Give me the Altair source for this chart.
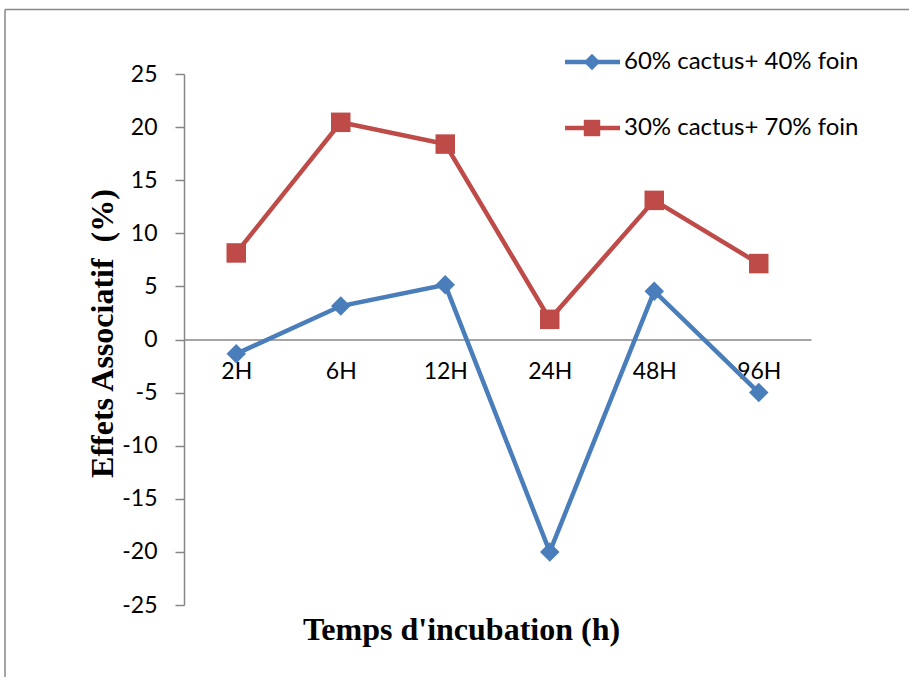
import altair as alt
import pandas as pd

# ---- data ----
times = ["2H", "6H", "12H", "24H", "48H", "96H"]
series = ["60% cactus+ 40% foin", "30% cactus+ 70% foin"]
blue_vals = [-1.35, 3.15, 5.15, -20.0, 4.55, -5.0]
red_vals = [8.15, 20.45, 18.4, 1.9, 13.1, 7.15]
y_ticks = [-25, -20, -15, -10, -5, 0, 5, 10, 15, 20, 25]
colors = ["#4A7EBB", "#BE4B48"]
shapes = ["diamond", "square"]

rows = []
for s, vals in zip(series, [blue_vals, red_vals]):
    for t, v in zip(times, vals):
        rows.append({"time": t, "series": s, "value": v})
df = pd.DataFrame(rows)
leg_df = pd.DataFrame({"series": series})
frame_df = pd.DataFrame({"edge": ["frame"]})

W, H = 627, 531
FONT = "Lato"
SERIF = "Liberation Serif"
GRAY = "#878787"

color = alt.Color("series:N", scale=alt.Scale(domain=series, range=colors), legend=None)
shape = alt.Shape("series:N", scale=alt.Scale(domain=series, range=shapes), legend=None)

x_enc = alt.X(
    "time:N", sort=times, scale=alt.Scale(domain=times, padding=0.5),
    axis=alt.Axis(
        title="Temps d'incubation (h)", labelAngle=0, ticks=False, grid=False,
        domainColor=GRAY, domainWidth=1.5, offset=-265.5, labelPadding=21,
        labelFont=FONT, labelFontSize=23, labelColor="black", zindex=0,
        titleFont=SERIF, titleFontSize=32, titleFontWeight="bold", titleColor="black",
        titleX=277, titleY=300, titleBaseline="alphabetic",
    ),
)
y_enc = alt.Y(
    "value:Q", scale=alt.Scale(domain=[-25, 25], nice=False, zero=False),
    axis=alt.Axis(
        values=y_ticks, grid=False, title="Effets Associatif \u00a0(%)",
        labelExpr="toString(datum.value)",
        tickSize=9, tickColor=GRAY, tickWidth=1.5, domainColor=GRAY, domainWidth=1.5,
        labelPadding=18, labelFont=FONT, labelFontSize=23, labelColor="black",
        titleFont=SERIF, titleFontSize=32, titleFontWeight="bold", titleColor="black",
        titleX=-72, titleY=259, titleBaseline="alphabetic",
    ),
)

base = alt.Chart(df)
lines = base.mark_line(strokeWidth=4.5).encode(x=x_enc, y=y_enc, color=color, detail="series:N")
points = base.mark_point(filled=True, size=380, opacity=1).encode(
    x=alt.X("time:N", sort=times), y=alt.Y("value:Q"), color=color, shape=shape
)
main = alt.layer(lines, points)

leg_y = alt.Y("series:N", scale=alt.Scale(type="point", domain=series, range=[-12, 54], padding=0), axis=None)
leg_base = alt.Chart(leg_df)
leg_line = leg_base.mark_rule(strokeWidth=4.5).encode(
    x=alt.value(381), x2=alt.value(436), y=leg_y, color=color
)
leg_pt = leg_base.mark_point(filled=True, size=270, opacity=1).encode(
    x=alt.value(408), y=leg_y, color=color, shape=shape
)
leg_txt = leg_base.mark_text(align="left", baseline="middle", font=FONT, fontSize=24, color="black").encode(
    x=alt.value(440), y=leg_y, text="series:N"
)
legend = alt.layer(leg_line, leg_pt, leg_txt)

frame_top = alt.Chart(frame_df).mark_rule(color=GRAY, strokeWidth=1.5).encode(
    x=alt.value(-179), x2=alt.value(725), y=alt.value(-64.5)
)
frame_left = alt.Chart(frame_df).mark_rule(color=GRAY, strokeWidth=1.5).encode(
    x=alt.value(-179), y=alt.value(-64.5), y2=alt.value(603)
)

chart = (
    alt.layer(frame_top, frame_left, main, legend)
    .resolve_scale(y="independent")
    .properties(
        width=W, height=H,
        autosize=alt.AutoSizeParams(type="none"),
        padding={"left": 184, "top": 74, "right": 98, "bottom": 72},
        background="white",
    )
    .configure_view(stroke=None)
)

chart.save("out.html", embed_options={"renderer": "svg", "actions": False})
